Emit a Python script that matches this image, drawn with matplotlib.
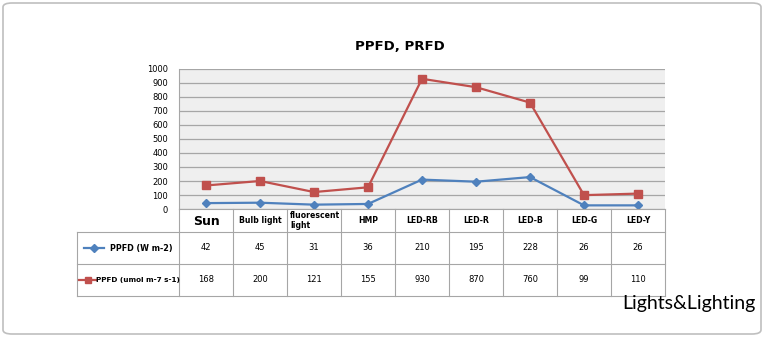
import matplotlib.pyplot as plt
from matplotlib.patches import FancyBboxPatch
from matplotlib.lines import Line2D

categories = ["Sun", "Bulb light", "fluorescent\nlight", "HMP", "LED-RB", "LED-R", "LED-B", "LED-G", "LED-Y"]
ppfd_w = [42, 45, 31, 36, 210, 195, 228, 26, 26]
ppfd_umol = [168, 200, 121, 155, 930, 870, 760, 99, 110]
series_names = ["PPFD (W m-2)", "PPFD (umol m-7 s-1)"]

blue = "#4F81BD"
red = "#C0504D"
grid_c = "#A6A6A6"

W, H = 765, 338
fig = plt.figure(figsize=(W / 100, H / 100), dpi=100)

def fx(px):
    return px / W

def fy(py):
    return 1 - py / H

# rounded frame around everything
frame = FancyBboxPatch((fx(3), fy(334)), fx(758), 331 / H,
                       boxstyle="round,pad=0,rounding_size=0.012",
                       transform=fig.transFigure, facecolor="none",
                       edgecolor="#BFBFBF", linewidth=1.2, zorder=-1)
fig.patches.append(frame)

x0, x1 = 179, 665
y_top, y_zero = 69, 209
ax = fig.add_axes([fx(x0), fy(y_zero), fx(x1 - x0), (y_zero - y_top) / H])
ax.set_facecolor("#EFEFEF")
n = len(categories)
xs = range(n)
ax.plot(xs, ppfd_umol, color=red, marker="s", markersize=5.5, linewidth=1.6)
ax.plot(xs, ppfd_w, color=blue, marker="D", markersize=3.8, linewidth=1.6)
ax.set_xlim(-0.5, n - 0.5)
ax.set_ylim(0, 1000)
ax.set_yticks(range(0, 1001, 100))
ax.tick_params(axis="y", labelsize=6, length=0, pad=8)
ax.set_xticks([])
ax.grid(axis="y", color=grid_c, linewidth=0.9)
ax.set_axisbelow(True)
for s in ["top", "right", "bottom"]:
    ax.spines[s].set_visible(False)
ax.spines["left"].set_color(grid_c)

fig.text(fx(400), fy(46), "PPFD, PRFD", ha="center", va="center",
         fontsize=9.5, fontweight="bold")

# data table under the plot
col_w = (x1 - x0) / n
rows_y = [209, 232, 264, 296]
left_x = 77
lw = 0.8

def hline(xa, xb, y):
    fig.add_artist(Line2D([fx(xa), fx(xb)], [fy(y), fy(y)], color=grid_c, lw=lw))

def vline(x, ya, yb):
    fig.add_artist(Line2D([fx(x), fx(x)], [fy(ya), fy(yb)], color=grid_c, lw=lw))

hline(x0, x1, rows_y[0])
hline(left_x, x1, rows_y[1])
hline(left_x, x1, rows_y[2])
hline(left_x, x1, rows_y[3])
vline(left_x, rows_y[1], rows_y[3])
for i in range(n + 1):
    vline(x0 + i * col_w, rows_y[0], rows_y[3])

for i, cat in enumerate(categories):
    cx = x0 + (i + 0.5) * col_w
    cy = (rows_y[0] + rows_y[1]) / 2
    if cat == "Sun":
        fig.text(fx(cx), fy(cy + 1), cat, ha="center", va="center", fontsize=9, fontweight="bold")
    elif "\n" in cat:
        fig.text(fx(x0 + i * col_w + 3), fy(cy), cat, ha="left", va="center",
                 fontsize=5.6, fontweight="bold", linespacing=1.15)
    else:
        fig.text(fx(cx), fy(cy), cat, ha="center", va="center", fontsize=5.6, fontweight="bold")
    fig.text(fx(cx), fy((rows_y[1] + rows_y[2]) / 2), str(ppfd_w[i]),
             ha="center", va="center", fontsize=6)
    fig.text(fx(cx), fy((rows_y[2] + rows_y[3]) / 2), str(ppfd_umol[i]),
             ha="center", va="center", fontsize=6)

# row keys
r1 = (rows_y[1] + rows_y[2]) / 2
fig.add_artist(Line2D([fx(84), fx(104)], [fy(r1), fy(r1)], color=blue, lw=1.6))
fig.add_artist(Line2D([fx(94)], [fy(r1)], color=blue, marker="D", markersize=3.8))
fig.text(fx(110), fy(r1), series_names[0], ha="left", va="center", fontsize=5.8, fontweight="bold")
r2 = (rows_y[2] + rows_y[3]) / 2
fig.add_artist(Line2D([fx(79), fx(96)], [fy(r2), fy(r2)], color=red, lw=1.6))
fig.add_artist(Line2D([fx(88)], [fy(r2)], color=red, marker="s", markersize=5))
fig.text(fx(96), fy(r2), series_names[1], ha="left", va="center", fontsize=5.2, fontweight="bold")

fig.text(fx(755), fy(303), "Lights&Lighting", ha="right", va="center", fontsize=14, family="Lato")

fig.savefig("out.png", dpi=100)
